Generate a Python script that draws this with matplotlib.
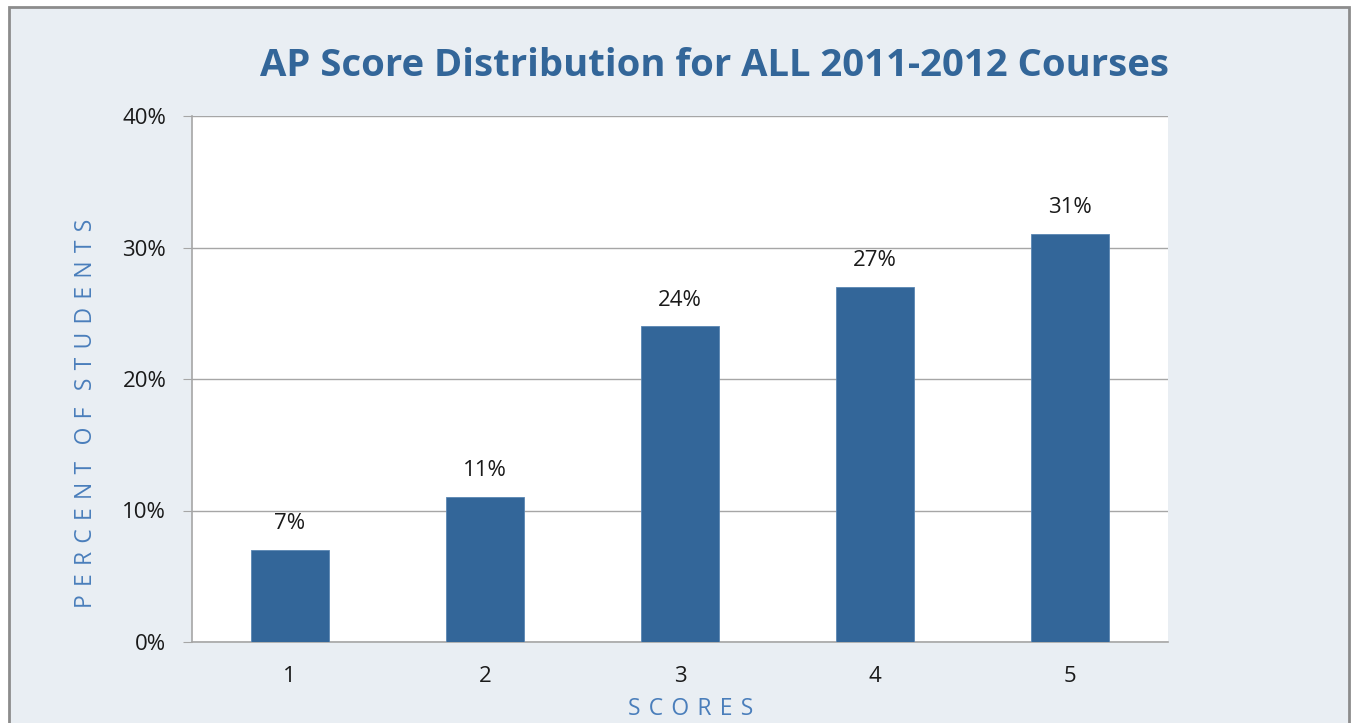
import matplotlib.pyplot as plt
from matplotlib.patches import Rectangle
from matplotlib.ticker import FuncFormatter

scores = ["1", "2", "3", "4", "5"]
percents = [7, 11, 24, 27, 31]
y_ticks = [0, 10, 20, 30, 40]

BAR = "#336699"
TITLE = "#336699"
LABEL = "#4A7EBB"
PANEL = "#E9EEF3"
GRID = "#A6A6A6"

W, H = 1351, 723
fig = plt.figure(figsize=(W / 100, H / 100), dpi=100, facecolor="white")
plt.rcParams["font.family"] = ["Open Sans", "DejaVu Sans"]

# chart panel with grey frame (bottom edge runs off the image)
fig.patches.append(
    Rectangle((9 / W, -0.05), (1349 - 9) / W, 1.05 - 7 / H,
              transform=fig.transFigure, facecolor=PANEL,
              edgecolor="#8C8C8C", linewidth=2, zorder=-10)
)

ax = fig.add_axes([192 / W, 1 - 642 / H, (1168 - 192) / W, (642 - 116) / H])
ax.set_facecolor("white")

x = range(len(scores))
ax.bar(x, percents, width=0.4, color=BAR, edgecolor="#5B86B3", linewidth=0.6, zorder=3)
for xi, v in zip(x, percents):
    ax.annotate(f"{v}%", (xi, v), xytext=(0, 19), textcoords="offset points",
                ha="center", va="center", fontsize=16, color="#1A1A1A")

ax.set_xlim(-0.5, len(scores) - 0.5)
ax.set_ylim(0, 40)
ax.set_yticks(y_ticks)
ax.yaxis.set_major_formatter(FuncFormatter(lambda v, _: f"{v:.0f}%"))
ax.set_xticks(list(x))
ax.set_xticklabels(scores)
ax.grid(axis="y", color=GRID, linewidth=1, zorder=0)
ax.tick_params(axis="y", length=6.5, color=GRID, labelsize=16, labelcolor="#1A1A1A", pad=12)
ax.tick_params(axis="x", length=0, labelsize=16, labelcolor="#1A1A1A", pad=17)
for side in ("top", "right"):
    ax.spines[side].set_visible(False)
for side in ("left", "bottom"):
    ax.spines[side].set_color(GRID)
    ax.spines[side].set_linewidth(1.2)


def spaced(*words):
    gap = " \u200a"
    return (gap * 2).join(gap.join(w) for w in words)


fig.text(715 / W, 1 - 66 / H, "AP Score Distribution for ALL 2011-2012 Courses",
         ha="center", va="center", fontsize=27.5, fontweight="bold", color=TITLE)
fig.text(86 / W, 1 - 413 / H, spaced("PERCENT", "OF", "STUDENTS"),
         rotation=90, ha="center", va="center", fontsize=16.5, color=LABEL)
fig.text(691 / W, 1 - 709 / H, spaced("SCORES"),
         ha="center", va="center", fontsize=16.5, color=LABEL)

fig.savefig("out.png", dpi=100, facecolor="white")
